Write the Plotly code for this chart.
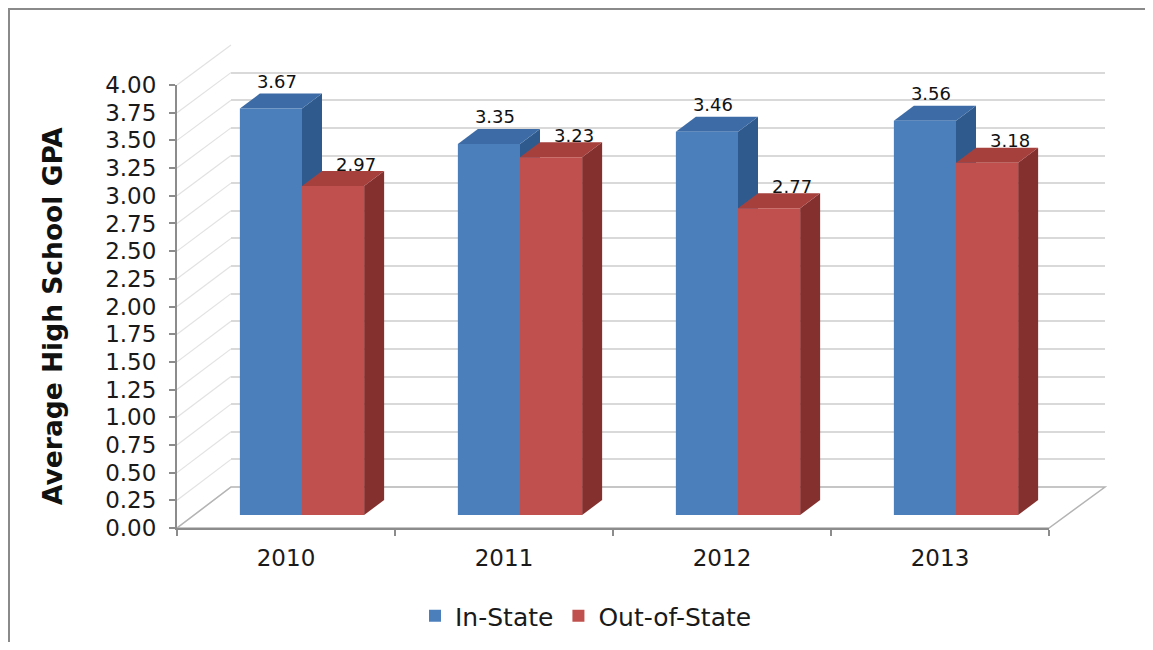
import plotly.graph_objects as go

# ---------------- data ----------------
years = ["2010", "2011", "2012", "2013"]
in_state = [3.67, 3.35, 3.46, 3.56]
out_of_state = [2.97, 3.23, 2.77, 3.18]
series_names = ["In-State", "Out-of-State"]
y_ticks = [i * 0.25 for i in range(17)]

# ---------------- styling ----------------
FONT = "DejaVu Sans, Verdana, sans-serif"
FRONT = ["#4B7FBC", "#C0504D"]
TOP = ["#3D6BA6", "#A5403D"]
SIDE = ["#2E5A8E", "#83302E"]
GRID = "#d9d9d9"
AXIS = "#8c8c8c"

OFF = 8  # default page body margin
W, H = 1153 - 2 * OFF, 650 - 2 * OFF
ML, MR, MT, MB = 177 - OFF, 1153 - OFF - 1105, 45 - OFF, (650 - OFF) - 528 - OFF
PW, PH = W - ML - MR, H - MT - MB


def px_x(p):
    return (p - OFF - ML) / PW


def px_y(p):
    return (H - MB - (p - OFF)) / PH


# domains (front frame, back wall, bar plane) in page pixels
front_x = [px_x(177), px_x(1049)]
front_y = [px_y(528), px_y(85)]
back_x = [px_x(231), px_x(1105)]
back_y = [px_y(487), px_y(45)]
bar_x = [px_x(193), px_x(1065)]
bar_y = [px_y(515), px_y(72)]

idx = list(range(len(years)))
BW = 0.285  # bar width in category units
cat_px = (bar_x[1] - bar_x[0]) * PW / len(years)
unit_px = (bar_y[1] - bar_y[0]) * PH / 4.0
DX = 20 / cat_px   # depth offset in x units
DY = 15 / unit_px  # depth offset in y units

fig = go.Figure()

# invisible trace for the category (front) axis
fig.add_trace(go.Scatter(x=years, y=[0] * len(years), mode="markers",
                         marker=dict(opacity=0), showlegend=False,
                         hoverinfo="skip", xaxis="x", yaxis="y"))
# invisible trace for the back wall axes
fig.add_trace(go.Scatter(x=[0.5], y=[0], mode="markers",
                         marker=dict(opacity=0), showlegend=False,
                         hoverinfo="skip", xaxis="x2", yaxis="y2"))

shapes = []
all_series = [in_state, out_of_state]
offsets = [-BW, 0.0]
for s, (vals, name) in enumerate(zip(all_series, series_names)):
    fig.add_trace(go.Bar(
        x=idx, y=vals, name=name, width=BW, offset=offsets[s],
        marker=dict(color=FRONT[s], line=dict(width=0)),
        xaxis="x3", yaxis="y3", hoverinfo="y",
    ))
    for i, v in zip(idx, vals):
        x0 = i + offsets[s]
        x1 = x0 + BW
        top = f"M {x0},{v} L {x0 + DX},{v + DY} L {x1 + DX},{v + DY} L {x1},{v} Z"
        side = f"M {x1},0 L {x1 + DX},{DY} L {x1 + DX},{v + DY} L {x1},{v} Z"
        shapes.append(dict(type="path", path=side, xref="x3", yref="y3",
                           fillcolor=SIDE[s], line=dict(width=0), layer="between"))
        shapes.append(dict(type="path", path=top, xref="x3", yref="y3",
                           fillcolor=TOP[s], line=dict(width=0), layer="between"))

# data labels
lab_dx = [0.3 * DX, 1.15 * DX]
lab_dy = [DY + 10 / unit_px, DY + 5 / unit_px]
for s, vals in enumerate(all_series):
    fig.add_trace(go.Scatter(
        x=[i + offsets[s] + BW / 2 + lab_dx[s] for i in idx],
        y=[v + lab_dy[s] for v in vals],
        text=[f"{v:.2f}" for v in vals], mode="text",
        textposition="middle center", cliponaxis=False,
        textfont=dict(family=FONT, size=18, color="#111111"),
        showlegend=False, hoverinfo="skip", xaxis="x3", yaxis="y3",
    ))

# side-wall perspective lines from front axis ticks to back wall
for v in y_ticks:
    fy = front_y[0] + v / 4 * (front_y[1] - front_y[0])
    by = back_y[0] + v / 4 * (back_y[1] - back_y[0])
    shapes.append(dict(type="line", xref="paper", yref="paper",
                       x0=front_x[0], y0=fy, x1=back_x[0], y1=by,
                       line=dict(color="#e2e2e2", width=1.2), layer="below"))

# floor outline
shapes.append(dict(type="path", xref="paper", yref="paper",
                   path=(f"M {front_x[0]},{front_y[0]} L {front_x[1]},{front_y[0]} "
                         f"L {back_x[1]},{back_y[0]} L {back_x[0]},{back_y[0]} Z"),
                   line=dict(color="#b4b4b4", width=1.5), layer="below"))

# outer chart border (left and top edges visible)
shapes.append(dict(type="path", xref="paper", yref="paper",
                   path=(f"M {px_x(9)},{px_y(660)} L {px_x(9)},{px_y(9)} "
                         f"L {px_x(1160)},{px_y(9)}"),
                   line=dict(color="#8a8a8a", width=2), layer="below"))

fig.update_layout(
    width=W, height=H,
    margin=dict(l=ML, r=MR, t=MT, b=MB, autoexpand=False),
    paper_bgcolor="white", plot_bgcolor="rgba(0,0,0,0)",
    font=dict(family=FONT, color="#1a1a1a"),
    barmode="overlay",
    showlegend=True,
    legend=dict(orientation="h", x=px_x(586), xanchor="center",
                y=px_y(616), yanchor="middle",
                font=dict(family=FONT, size=25, color="#1a1a1a"),
                itemclick=False),
    xaxis=dict(domain=front_x, type="category", range=[-0.5, 3.5],
               anchor="y", showline=True, linecolor=AXIS, linewidth=2,
               ticks="outside", tickson="boundaries", ticklen=6,
               tickcolor=AXIS, tickwidth=2, showgrid=False,
               tickfont=dict(family=FONT, size=23, color="#1a1a1a"),
               ticklabelstandoff=8, fixedrange=True),
    yaxis=dict(domain=front_y, range=[0, 4], anchor="x",
               tickvals=y_ticks, ticktext=[f"{t:.2f}" for t in y_ticks],
               showline=True, linecolor=AXIS, linewidth=2,
               ticks="outside", ticklen=6, tickcolor=AXIS, tickwidth=2,
               showgrid=False, zeroline=False,
               tickfont=dict(family=FONT, size=23, color="#1a1a1a"),
               ticklabelstandoff=8, fixedrange=True),
    xaxis2=dict(domain=back_x, range=[0, 1], anchor="y2", visible=False,
                fixedrange=True),
    yaxis2=dict(domain=back_y, range=[0, 4], anchor="x2", tickvals=y_ticks,
                showticklabels=False, ticks="", showline=False,
                showgrid=True, gridcolor=GRID, gridwidth=2, zeroline=False,
                fixedrange=True),
    xaxis3=dict(domain=bar_x, range=[-0.5, 3.5], anchor="y3", visible=False,
                fixedrange=True),
    yaxis3=dict(domain=bar_y, range=[0, 4], anchor="x3", visible=False,
                fixedrange=True),
    shapes=shapes,
    annotations=[dict(text="<b>Average High School GPA</b>", textangle=-90,
                      xref="paper", yref="paper", x=px_x(52), y=px_y(316),
                      xanchor="center", yanchor="middle", showarrow=False,
                      font=dict(family=FONT, size=26.5, color="#111111"))],
)

fig.write_html("out.html")
